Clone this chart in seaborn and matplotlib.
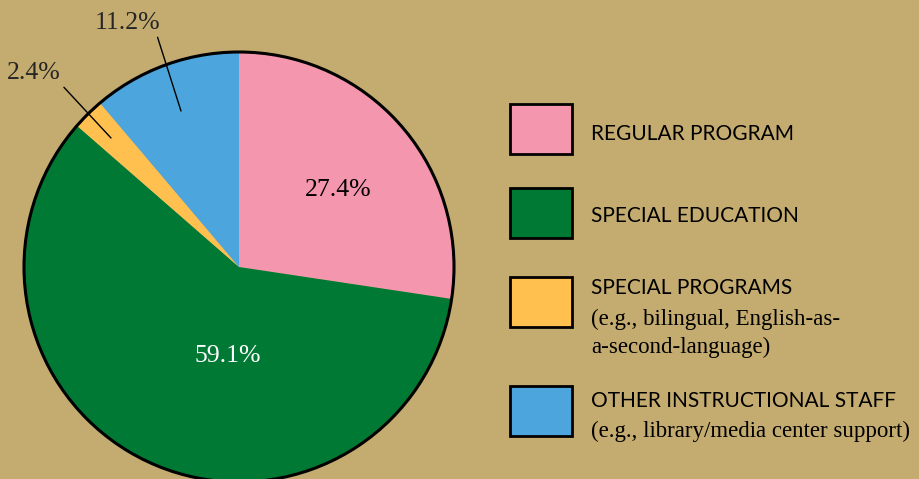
import matplotlib
matplotlib.use("Agg")
import matplotlib.pyplot as plt
import seaborn as sns
from matplotlib.patches import Circle, Rectangle

# data
categories = ["REGULAR PROGRAM", "SPECIAL EDUCATION", "SPECIAL PROGRAMS", "OTHER INSTRUCTIONAL STAFF"]
notes = [[], [], ["(e.g., bilingual, English-as-", "a-second-language)"],
         ["(e.g., library/media center support)"]]
shares = [27.4, 59.1, 2.4, 11.2]
pct_labels = ["27.4%", "59.1%", "2.4%", "11.2%"]
palette = sns.color_palette(["#F497AE", "#007934", "#FFC04F", "#4CA5DC"])
bg = "#C4AB6F"

sns.set_style("white")
plt.rcParams["font.family"] = ["Liberation Serif", "DejaVu Serif"]

W, H = 919, 479
fig = plt.figure(figsize=(W / 100, H / 100), dpi=100, facecolor=bg)
ax = fig.add_axes([0, 0, 1, 1])
ax.set_facecolor(bg)

def py(y):
    # pixel row (from top) -> data y
    return H - y

cx, cy, r = 239, py(267), 215
ax.pie(shares, colors=palette, startangle=90, counterclock=False,
       center=(cx, cy), radius=r, wedgeprops=dict(linewidth=0), frame=True)
ax.add_patch(Circle((cx, cy), r, fill=False, ec="black", lw=2.2, zorder=5))

# percentage labels
ax.text(338, py(196), pct_labels[0], ha="center", va="baseline", fontsize=18.5, color="black")
ax.text(228, py(362), pct_labels[1], ha="center", va="baseline", fontsize=18.5, color="white")
ax.annotate(pct_labels[2], xy=(111, py(138)), xytext=(34, py(79)), ha="center", va="baseline",
            fontsize=18.5, arrowprops=dict(arrowstyle="-", lw=1, color="black",
                                           shrinkA=0, shrinkB=0, relpos=(1.0, 0.0)))
ax.annotate(pct_labels[3], xy=(181, py(111)), xytext=(127, py(29)), ha="center", va="baseline",
            fontsize=18.5, arrowprops=dict(arrowstyle="-", lw=1, color="black",
                                           shrinkA=0, shrinkB=0, relpos=(0.95, 0.0)))

# legend
box_tops = [104, 188, 277, 386]
cap_base = [140, 222, 294, 407]
note_base = [None, None, 325, 437]
for i, cat in enumerate(categories):
    ax.add_patch(Rectangle((510, py(box_tops[i] + 50)), 62, 50, fc=palette[i],
                           ec="black", lw=2))
    ax.text(591, py(cap_base[i]), cat, ha="left", va="baseline", fontsize=15,
            family=["Lato", "DejaVu Sans"], color="black")
    for k, line in enumerate(notes[i]):
        ax.text(591, py(note_base[i] + 28 * k), line, ha="left", va="baseline",
                fontsize=16.5, color="black")

ax.set_xlim(0, W)
ax.set_ylim(0, H)
ax.set_aspect("equal")
ax.set_axis_off()

fig.savefig("out.png", dpi=100, facecolor=bg)
plt.close()
